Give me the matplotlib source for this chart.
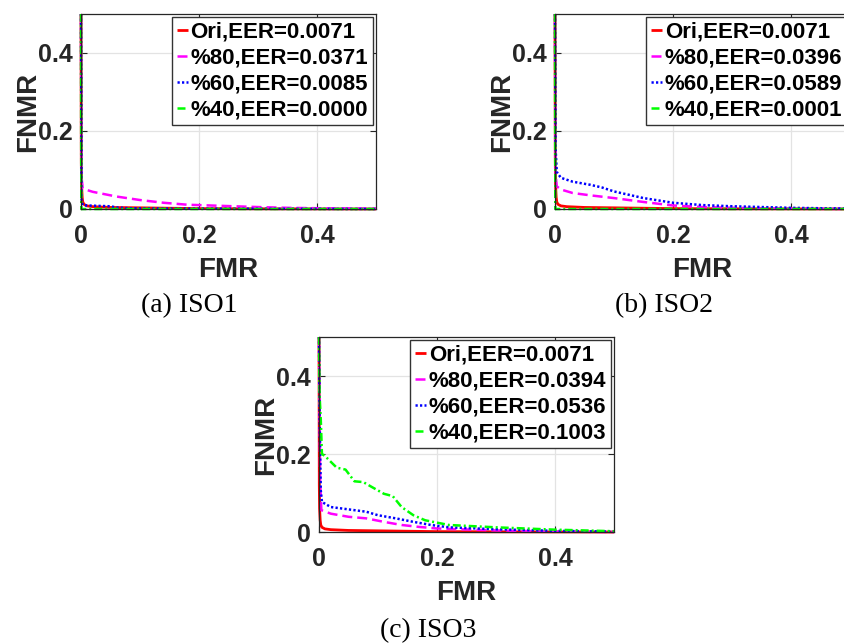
import matplotlib
matplotlib.use("Agg")
import matplotlib.pyplot as plt

# ---------------- data ----------------
labels_a = ["Ori,EER=0.0071", "%80,EER=0.0371", "%60,EER=0.0085", "%40,EER=0.0000"]
labels_b = ["Ori,EER=0.0071", "%80,EER=0.0396", "%60,EER=0.0589", "%40,EER=0.0001"]
labels_c = ["Ori,EER=0.0071", "%80,EER=0.0394", "%60,EER=0.0536", "%40,EER=0.1003"]
captions = ["(a) ISO1", "(b) ISO2", "(c) ISO3"]
ticks = [0, 0.2, 0.4]
tick_labels = ["0", "0.2", "0.4"]

ori_fmr = [0, 0.0005, 0.001, 0.002, 0.003, 0.005, 0.01, 0.02, 0.05, 0.1, 0.15, 0.2, 0.3, 0.5]
ori_fnmr = [0.5, 0.12, 0.06, 0.03, 0.018, 0.012, 0.008, 0.006, 0.004, 0.003, 0.002, 0.001, 0.0005, 0.0]

zero_fmr = [0, 0.0005, 0.5]
zero_fnmr = [0.5, 0.0, 0.0]

a80_fmr = [0, 0.001, 0.003, 0.02, 0.04, 0.06, 0.1, 0.14, 0.18, 0.22, 0.26, 0.3, 0.35, 0.4, 0.5]
a80_fnmr = [0.5, 0.08, 0.052, 0.044, 0.038, 0.032, 0.023, 0.016, 0.011, 0.009, 0.007, 0.005, 0.003, 0.002, 0.001]
a60_fmr = [0, 0.001, 0.003, 0.01, 0.03, 0.05, 0.06, 0.08, 0.15, 0.5]
a60_fnmr = [0.5, 0.02, 0.01, 0.009, 0.008, 0.007, 0.004, 0.002, 0.001, 0.0]

b80_fmr = [0, 0.001, 0.003, 0.01, 0.03, 0.06, 0.1, 0.15, 0.2, 0.25, 0.3, 0.4, 0.5]
b80_fnmr = [0.5, 0.09, 0.058, 0.05, 0.041, 0.035, 0.028, 0.018, 0.009, 0.005, 0.003, 0.001, 0.0]
b60_fmr = [0, 0.001, 0.003, 0.01, 0.03, 0.06, 0.08, 0.1, 0.15, 0.2, 0.25, 0.3, 0.4, 0.5]
b60_fnmr = [0.5, 0.156, 0.095, 0.08, 0.07, 0.062, 0.055, 0.045, 0.028, 0.016, 0.01, 0.007, 0.003, 0.001]

c80_fmr = [0, 0.002, 0.004, 0.02, 0.05, 0.08, 0.11, 0.14, 0.17, 0.2, 0.3, 0.4, 0.5]
c80_fnmr = [0.5, 0.13, 0.056, 0.047, 0.039, 0.035, 0.026, 0.018, 0.013, 0.009, 0.004, 0.001, 0.0]
c60_fmr = [0, 0.001, 0.003, 0.005, 0.02, 0.04, 0.06, 0.08, 0.1, 0.13, 0.16, 0.19, 0.22, 0.3, 0.4, 0.5]
c60_fnmr = [0.5, 0.3, 0.107, 0.077, 0.064, 0.06, 0.056, 0.052, 0.043, 0.035, 0.026, 0.018, 0.012, 0.007, 0.003, 0.001]
c40_fmr = [0, 0.001, 0.003, 0.005, 0.01, 0.02, 0.03, 0.045, 0.06, 0.075, 0.09, 0.11, 0.125, 0.14,
           0.16, 0.18, 0.2, 0.22, 0.3, 0.4, 0.5]
c40_fnmr = [0.5, 0.35, 0.29, 0.2, 0.195, 0.18, 0.165, 0.16, 0.13, 0.128, 0.115, 0.098, 0.092, 0.064,
            0.043, 0.03, 0.024, 0.018, 0.012, 0.006, 0.002]

panels = [
    (labels_a, [(ori_fmr, ori_fnmr), (a80_fmr, a80_fnmr), (a60_fmr, a60_fnmr), (zero_fmr, zero_fnmr)]),
    (labels_b, [(ori_fmr, ori_fnmr), (b80_fmr, b80_fnmr), (b60_fmr, b60_fnmr), (zero_fmr, zero_fnmr)]),
    (labels_c, [(ori_fmr, ori_fnmr), (c80_fmr, c80_fnmr), (c60_fmr, c60_fnmr), (c40_fmr, c40_fnmr)]),
]

# ---------------- style ----------------
colors = ["#ff0000", "#ff00ff", "#0000ff", "#00ff00"]
styles = ["-", (0, (4.0, 2.0)), (0, (0.9, 0.9)), (0, (3.2, 1.2, 0.8, 1.2))]
widths = [2.0, 1.8, 1.8, 1.8]
dark = "#262626"

plt.rcParams["font.family"] = ["Liberation Sans", "DejaVu Sans"]

fig = plt.figure(figsize=(8.45, 6.43), dpi=100)
W, H = 845.0, 643.0
axes_px = [(81, 14), (555, 14), (319, 337)]  # left, top in pixels
aw, ah = 295.0, 195.0
caption_pos = [(189, 306), (664, 306), (428, 631)]

for (lx, ty), (labels, series), cap, (cx, cy) in zip(axes_px, panels, captions, caption_pos):
    ax = fig.add_axes([lx / W, 1 - (ty + ah) / H, aw / W, ah / H])
    for (x, y), lab, c, ls, lw in zip(series, labels, colors, styles, widths):
        ax.plot(x, y, color=c, linestyle=ls, linewidth=lw, label=lab, clip_on=False,
                dash_capstyle="butt", solid_capstyle="butt")
    ax.set_xlim(0, 0.5)
    ax.set_ylim(0, 0.5)
    ax.set_xticks(ticks)
    ax.set_xticklabels(tick_labels)
    ax.set_yticks(ticks)
    ax.set_yticklabels(tick_labels)
    ax.grid(True, color="#e3e3e3", linewidth=0.9)
    ax.set_axisbelow(True)
    ax.tick_params(direction="in", length=4, width=0.8, colors=dark, labelsize=18,
                   top=True, right=True)
    ax.tick_params(axis="x", pad=11)
    ax.tick_params(axis="y", pad=6)
    for lbl in ax.get_xticklabels() + ax.get_yticklabels():
        lbl.set_fontweight("bold")
    for s in ax.spines.values():
        s.set_color(dark)
        s.set_linewidth(0.9)
    ax.set_xlabel("FMR", fontsize=20, fontweight="bold", color=dark, labelpad=6)
    ax.set_ylabel("FNMR", fontsize=20, fontweight="bold", color=dark, labelpad=-2)
    leg = ax.legend(loc="upper right", bbox_to_anchor=(0.99, 0.985), borderaxespad=0,
                    prop={"size": 16, "weight": "bold"}, handlelength=0.5, handletextpad=0.1,
                    labelspacing=0.22, borderpad=0.22, fancybox=False, framealpha=1,
                    edgecolor="#333333")
    leg.get_frame().set_linewidth(1.0)
    leg.set_zorder(5)
    fig.text(cx / W, 1 - cy / H, cap, ha="center", va="center", fontsize=20,
             family=["Liberation Serif", "DejaVu Serif"])

fig.savefig("out.png", dpi=100)
